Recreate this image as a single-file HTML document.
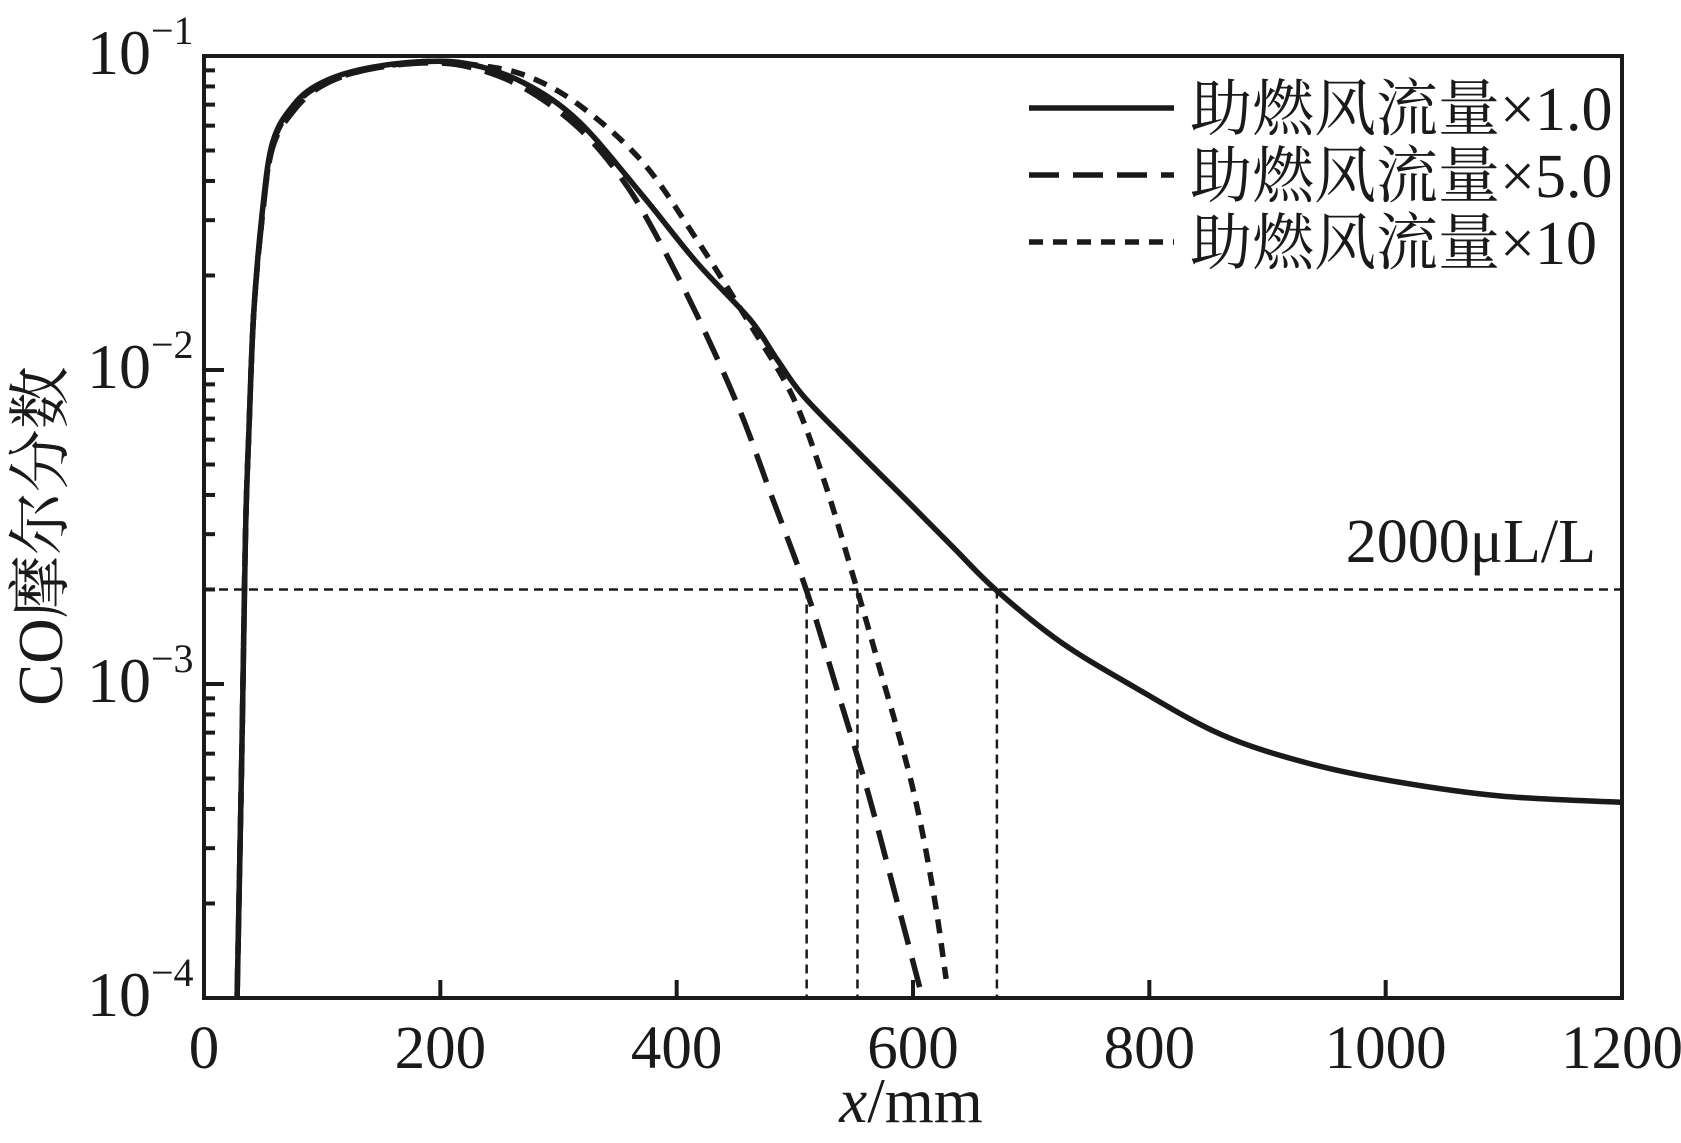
<!DOCTYPE html>
<html><head><meta charset="utf-8"><style>
html,body{margin:0;padding:0;background:#fff}
svg{display:block}
text{font-family:"Liberation Serif","Noto Serif CJK SC",serif;fill:#1a1a1a}
</style></head><body>
<svg id="chart" width="1681" height="1143" viewBox="0 0 1681 1143" xmlns="http://www.w3.org/2000/svg">
<g id="marks"></g>
</svg>
<script>
const xTicks=[0,200,400,600,800,1000,1200];
const yExp=[-1,-2,-3,-4];
const solidX=[28,32,35,38,42,49,58,76,99,135,185,226,271,317,371,417,462,485,508,553,599,635,671,725,789,861,934,1007,1097,1200];
const solidY=[1e-4,6e-4,2.9e-3,6.4e-3,0.015,0.031,0.053,0.070,0.082,0.091,0.096,0.094,0.082,0.062,0.036,0.022,0.0145,0.0108,0.0082,0.0055,0.0037,0.0027,0.00198,0.00136,0.00097,0.00069,0.00056,0.00049,0.00044,0.00042];
const dashX=[28,32,35,38,42,49,58,76,99,135,185,226,271,317,353,380,417,453,480,510,535,562,589,608];
const dashY=[1e-4,6e-4,2.9e-3,6.4e-3,0.015,0.030,0.051,0.067,0.080,0.090,0.095,0.092,0.079,0.059,0.041,0.028,0.015,0.0075,0.0040,0.00198,0.00098,0.00045,0.000187,1e-4];
const dotX=[28,32,35,38,42,49,58,76,99,135,185,226,271,317,371,417,462,499,526,553,571,599,617,628];
const dotY=[1e-4,6e-4,2.9e-3,6.4e-3,0.015,0.030,0.052,0.069,0.081,0.090,0.096,0.094,0.087,0.070,0.046,0.026,0.014,0.0081,0.0043,0.00198,0.00115,0.00048,0.00022,0.000115];
const refLevel=0.002;
const crossX=[510,553,671];
const legendLabels=["助燃风流量×1.0","助燃风流量×5.0","助燃风流量×10"];

const L=204,R=1622,T=56,B=998;
const sx=v=>L+(v-0)/(1200-0)*(R-L);
const sy=v=>T+(-1-Math.log10(v))/3*(B-T);
const NS="http://www.w3.org/2000/svg";
const g=document.getElementById('marks');
function mk(tag,attrs,parent){const e=document.createElementNS(NS,tag);for(const k in attrs)e.setAttribute(k,attrs[k]);(parent||g).appendChild(e);return e;}

let e=mk('line',{x1:L,x2:R,y1:sy(refLevel),y2:sy(refLevel),stroke:'#1a1a1a','stroke-width':2.5,'stroke-dasharray':'9 6'});


crossX.forEach(x=>{
  const l=mk('line',{x1:sx(x),x2:sx(x),y1:sy(refLevel),y2:B,stroke:'#1a1a1a','stroke-width':2.5,'stroke-dasharray':'9 6'});
  
  
});
const rt=mk('text',{x:1596,y:562,'font-size':62,'text-anchor':'end'});
rt.textContent='2000μL/L';



function series(xs,ys,dash,name){
  const P=xs.map((x,i)=>[sx(x),sy(ys[i])]);
  let d='M'+P[0][0].toFixed(1)+','+P[0][1].toFixed(1);
  for(let i=0;i<P.length-1;i++){
    const p0=P[i-1]||P[i],p1=P[i],p2=P[i+1],p3=P[i+2]||p2;
    const c1=[p1[0]+(p2[0]-p0[0])/6,p1[1]+(p2[1]-p0[1])/6];
    const c2=[p2[0]-(p3[0]-p1[0])/6,p2[1]-(p3[1]-p1[1])/6];
    d+=' C'+c1[0].toFixed(1)+','+c1[1].toFixed(1)+' '+c2[0].toFixed(1)+','+c2[1].toFixed(1)+' '+p2[0].toFixed(1)+','+p2[1].toFixed(1);
  }
  const p=mk('path',{d:d,fill:'none',stroke:'#1a1a1a','stroke-width':5.5,'stroke-dasharray':dash,'stroke-linejoin':'round'});
  
  
}
series(solidX,solidY,'none','series-x1-0');
series(dashX,dashY,'30 14','series-x5-0');
series(dotX,dotY,'14 10','series-x10');

const fr=mk('rect',{x:L,y:T,width:R-L,height:B-T,fill:'none',stroke:'#1a1a1a','stroke-width':4});



xTicks.forEach(v=>{
  const t=mk('line',{x1:sx(v),x2:sx(v),y1:B,y2:B-18,stroke:'#1a1a1a','stroke-width':4});
  
  
  const tx=mk('text',{x:sx(v),y:1068,'font-size':61,'text-anchor':'middle'});
  tx.textContent=v;
  
  
});
yExp.forEach((p,i)=>{
  const y=sy(Math.pow(10,p));
  const t=mk('line',{x1:L,x2:L+20,y1:y,y2:y,stroke:'#1a1a1a','stroke-width':4});
  
  
  const tx=mk('text',{x:151,y:y+18,'font-size':64,'text-anchor':'end'});
  tx.textContent='10';
  
  
  const sp=mk('text',{x:151,y:y-12,'font-size':40});
  sp.textContent='−'+(-p);
  
  
  if(p>-4){for(let m=2;m<=9;m++){
    const yy=sy(m*Math.pow(10,p-1));
    const mt=mk('line',{x1:L,x2:L+11,y1:yy,y2:yy,stroke:'#1a1a1a','stroke-width':4});
    
    
  }}
});

const xt=mk('text',{x:911,y:1122,'font-size':63,'text-anchor':'middle'});
xt.innerHTML='<tspan font-style="italic">x</tspan>/mm';


const yt=mk('text',{x:0,y:0,'font-size':63,'text-anchor':'middle',transform:'translate(62,536) rotate(-90)'});
yt.textContent='CO摩尔分数';



const dashes=['none','30 14','14 10'];
const ly=[108,175,242];
legendLabels.forEach((lab,i)=>{
  const ln=mk('line',{x1:1029,x2:1174,y1:ly[i],y2:ly[i],stroke:'#1a1a1a','stroke-width':5.5,'stroke-dasharray':dashes[i]});
  
  
  const tx=mk('text',{x:1190,y:ly[i]+22,'font-size':62});
  tx.textContent=lab;
  
  
});
</script>
</body></html>
